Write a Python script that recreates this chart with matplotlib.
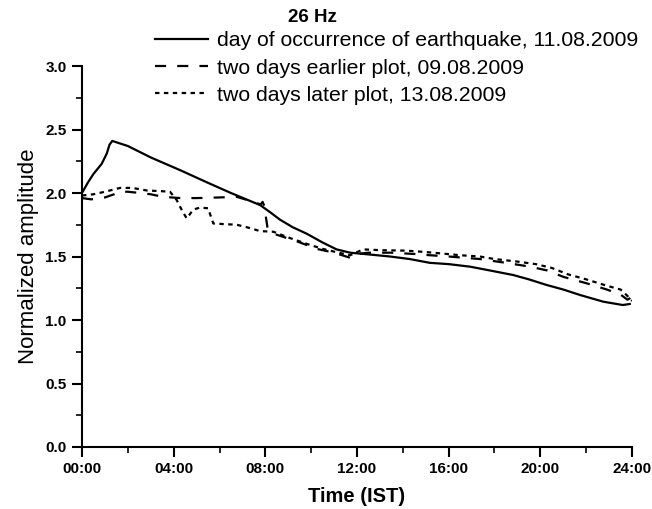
import matplotlib.pyplot as plt
from matplotlib.ticker import MultipleLocator, FuncFormatter

plt.rcParams['font.family'] = ['Liberation Sans', 'DejaVu Sans']

# hours (IST) and normalized amplitude, 26 Hz channel
t_eq = [0, 0.25, 0.5, 0.86, 1.08, 1.2, 1.32, 2.0, 3.0, 4.28, 5.5, 6.5, 7.77,
        8.2, 8.64, 9.2, 9.8, 10.5, 11.11, 11.7, 12.3, 13.44, 14.3, 15.18, 16.0,
        16.93, 17.8, 18.82, 19.5, 20.27, 21.0, 21.73, 22.75, 23.6, 23.9]
amp_eq = [2.00, 2.08, 2.15, 2.23, 2.31, 2.38, 2.41, 2.37, 2.28, 2.18, 2.08, 2.00, 1.905,
          1.85, 1.79, 1.73, 1.68, 1.61, 1.556, 1.53, 1.52, 1.50, 1.48, 1.45, 1.44,
          1.42, 1.39, 1.354, 1.32, 1.276, 1.24, 1.197, 1.144, 1.118, 1.126]

t_before = [0, 0.4, 0.8, 1.0, 1.4, 1.66, 2.0, 2.53, 3.0, 3.53, 4.28, 5.0, 6.0, 6.75,
            7.3, 7.8, 7.88, 7.95, 8.1, 8.35, 9.37, 10.24, 11.0, 11.7, 12.0, 12.5, 13.5,
            14.5, 15.18, 16.0, 17.36, 18.5, 19.55, 20.3, 21.0, 22.0, 22.9, 23.5, 23.8, 24.0]
amp_before = [1.96, 1.95, 1.96, 1.965, 1.99, 2.01, 2.01, 2.00, 1.99, 1.97, 1.96, 1.96, 1.965, 1.97,
              1.94, 1.91, 1.93, 1.90, 1.72, 1.68, 1.62, 1.56, 1.53, 1.49, 1.52, 1.53, 1.53,
              1.52, 1.51, 1.50, 1.48, 1.45, 1.42, 1.39, 1.34, 1.29, 1.24, 1.20, 1.16, 1.18]

t_after = [0, 0.5, 1.0, 1.66, 2.2, 2.82, 3.4, 3.84, 4.13, 4.4, 4.57, 4.86, 5.15, 5.5,
           5.73, 6.2, 6.75, 7.2, 7.77, 8.35, 9.0, 9.8, 10.5, 11.2, 11.7, 12.27, 13.0,
           14.16, 15.0, 15.62, 16.5, 17.36, 18.0, 19.0, 19.8, 20.5, 21.2, 22.0, 22.9,
           23.5, 23.8, 24.0]
amp_after = [1.98, 1.99, 2.01, 2.04, 2.04, 2.02, 2.015, 2.01, 1.945, 1.85, 1.80, 1.87, 1.885, 1.88,
             1.76, 1.755, 1.75, 1.73, 1.70, 1.695, 1.65, 1.60, 1.56, 1.53, 1.51, 1.556, 1.55,
             1.546, 1.535, 1.525, 1.51, 1.50, 1.48, 1.46, 1.44, 1.41, 1.36, 1.32, 1.27,
             1.24, 1.19, 1.15]

fig = plt.figure(figsize=(6.52, 5.09), dpi=100)
ax = fig.add_axes([82 / 652, 62 / 509, 550 / 652, 381 / 509])

ax.plot(t_eq, amp_eq, color='black', lw=1.6, ls='-',
        label='day of occurrence of earthquake, 11.08.2009')
ax.plot(t_before, amp_before, color='black', lw=1.6, ls=(0, (5, 5)),
        label='two days earlier plot, 09.08.2009')
ax.plot(t_after, amp_after, color='black', lw=1.6, ls=(0, (2, 2)),
        label='two days later plot, 13.08.2009')

ax.set_xlim(0, 24)
ax.set_ylim(0, 3)
ax.xaxis.set_major_locator(MultipleLocator(4))
ax.xaxis.set_minor_locator(MultipleLocator(2))
ax.yaxis.set_major_locator(MultipleLocator(0.5))
ax.yaxis.set_minor_locator(MultipleLocator(0.25))
ax.xaxis.set_major_formatter(FuncFormatter(lambda v, p: f'{int(v):02d}:00'))
ax.yaxis.set_major_formatter(FuncFormatter(lambda v, p: f'{v:.1f}'))

for side in ['top', 'right']:
    ax.spines[side].set_visible(False)
for side in ['left', 'bottom']:
    ax.spines[side].set_linewidth(1.5)

ax.tick_params(which='major', length=7, width=1.5, direction='out', labelsize=11, pad=4)
ax.tick_params(which='minor', length=4, width=1.2, direction='out')
for lbl in ax.get_xticklabels() + ax.get_yticklabels():
    lbl.set_fontweight('bold')

ax.set_xlabel('Time (IST)', fontsize=14.5, fontweight='bold', labelpad=8)
ax.set_ylabel('Normalized amplitude', fontsize=16, labelpad=5)

fig.text(312 / 652, 1 - 18 / 509, '26 Hz', ha='center', va='center',
         fontsize=13.5, fontweight='bold')

fig.legend(loc='center left', bbox_to_anchor=(155 / 652, 1 - 68 / 509),
           frameon=False, borderpad=0, borderaxespad=0, fontsize=15.3,
           handlelength=2.5, handletextpad=0.4, labelspacing=0.38)

fig.savefig('out.png', dpi=100)
